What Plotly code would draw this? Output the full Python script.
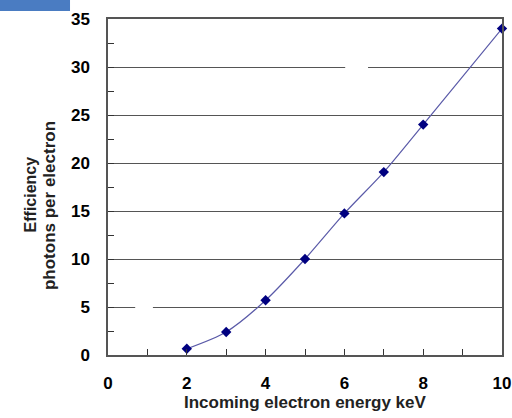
import plotly.graph_objects as go

energy_kev = [2, 3, 4, 5, 6, 7, 8, 10]
photons_per_electron = [0.65, 2.4, 5.7, 10.0, 14.75, 19.05, 24.0, 34.0]

x_ticks = [0, 2, 4, 6, 8, 10]
y_ticks = [0, 5, 10, 15, 20, 25, 30, 35]

fig = go.Figure()
fig.add_trace(go.Scatter(
    x=energy_kev, y=photons_per_electron, mode="lines+markers",
    line=dict(color="#5a5aa8", width=1.2, shape="spline", smoothing=0.8),
    marker=dict(symbol="diamond", size=8, color="#000080"),
    showlegend=False, cliponaxis=False,
))

FONT = "Arial, Liberation Sans, sans-serif"
axis_font = dict(family=FONT, size=17, color="#000000", weight="bold")

fig.update_layout(
    width=512, height=418,
    margin=dict(l=108, r=10, t=19, b=63),
    paper_bgcolor="white", plot_bgcolor="white",
    xaxis=dict(
        range=[0, 10], tickvals=x_ticks, ticks="inside", ticklen=6, tickcolor="#333",
        minor=dict(dtick=1, ticks="inside", ticklen=6, tickcolor="#333"),
        showline=True, linecolor="#555", linewidth=1.5, mirror=True,
        showgrid=False, zeroline=False, automargin=False,
        ticklabeloverflow="allow",
        tickfont=axis_font, ticklabelstandoff=12,
    ),
    yaxis=dict(
        range=[0, 35], tickvals=y_ticks, ticks="inside", ticklen=6, tickcolor="#333",
        minor=dict(dtick=2.5, ticks="inside", ticklen=6, tickcolor="#333"),
        showline=True, linecolor="#555", linewidth=1.5, mirror=True,
        showgrid=True, gridcolor="#555", gridwidth=1.2, zeroline=False, automargin=False,
        ticklabeloverflow="allow",
        tickfont=axis_font, ticklabelstandoff=13,
    ),
)

fig.add_annotation(
    text="Incoming electron energy keV", xref="paper", yref="paper",
    x=0.502, y=-0.14, xanchor="center", yanchor="middle", showarrow=False,
    font=dict(family=FONT, size=17, color="#222222", weight="bold"),
)
fig.add_annotation(
    text="Efficiency", xref="paper", yref="paper",
    x=-0.197, y=0.479, xanchor="center", yanchor="middle", showarrow=False,
    textangle=-90, font=dict(family=FONT, size=16, color="#222222", weight="bold"),
)
fig.add_annotation(
    text="photons per electron", xref="paper", yref="paper",
    x=-0.15, y=0.446, xanchor="center", yanchor="middle", showarrow=False,
    textangle=-90, font=dict(family=FONT, size=17, color="#222222", weight="bold"),
)

# blue block at top-left corner
fig.add_shape(type="rect", xref="paper", yref="paper",
              x0=-0.28, x1=-0.0964, y0=1.0238, y1=1.06,
              fillcolor="#4a7cc2", line=dict(width=0), layer="above")
# small white gaps in gridlines
fig.add_shape(type="rect", xref="x", yref="y", x0=6.02, x1=6.6, y0=29.7, y1=30.3,
              fillcolor="white", line=dict(width=0), layer="above")
fig.add_shape(type="rect", xref="x", yref="y", x0=0.69, x1=1.14, y0=4.7, y1=5.3,
              fillcolor="white", line=dict(width=0), layer="above")

fig.write_html("out.html")
